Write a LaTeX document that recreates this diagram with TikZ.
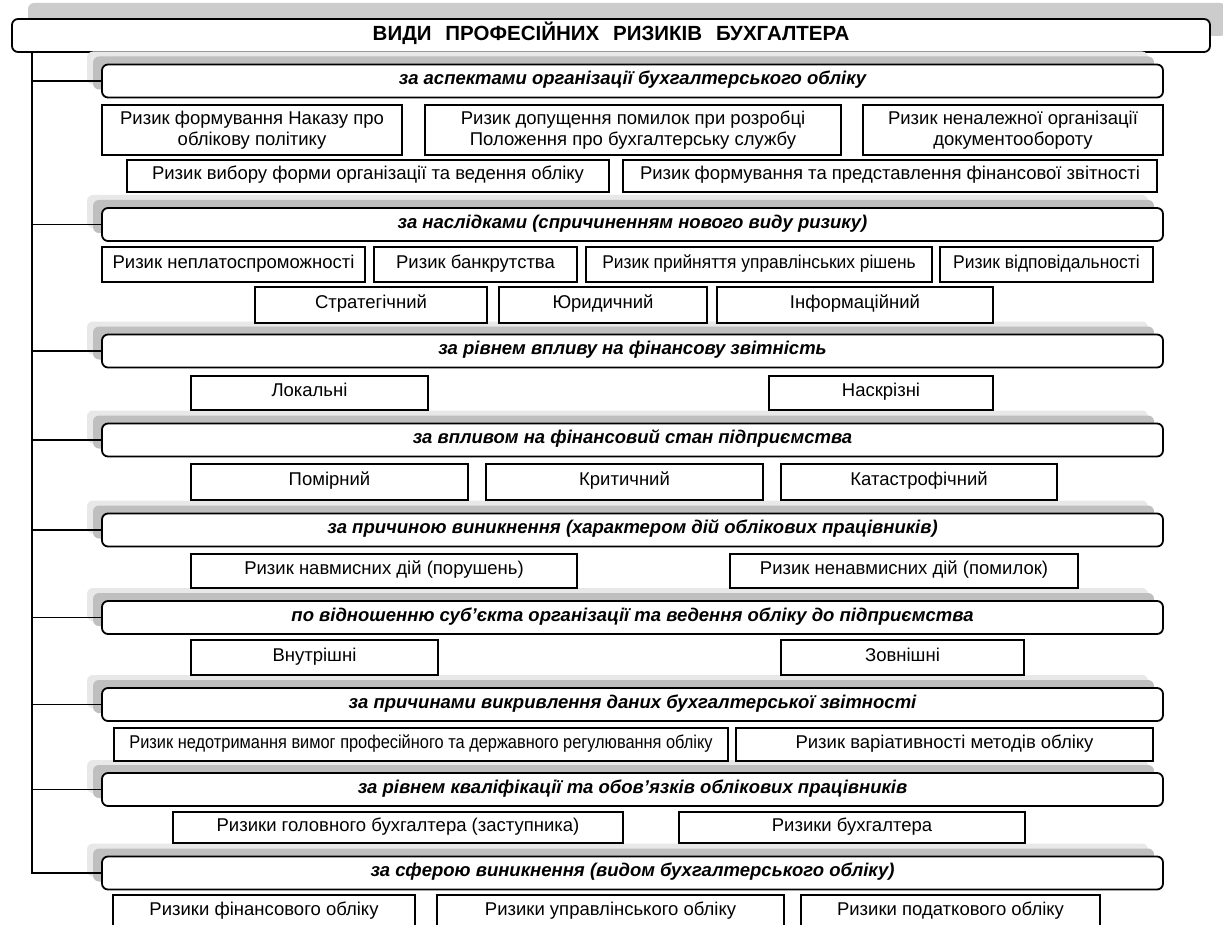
\documentclass[tikz,border=0pt]{standalone}
\usepackage{fontspec}
\setmainfont{Liberation Sans}
\usetikzlibrary{shadows,calc}
\tikzset{
  leafbase/.style={draw=black, line width=1.6pt, fill=white, inner sep=0pt, align=center,
    font=\fontsize{18.5}{21}\selectfont},
  leafbox/.style={leafbase, text height=13pt, text depth=5.5pt},
  leaftwo/.style={leafbase},
  headbox/.style={draw=black, line width=1.8pt, fill=white, rounded corners=6pt, inner sep=0pt,
    minimum width=1061pt, minimum height=33pt,
    font=\fontsize{18.5}{21}\selectfont\bfseries\itshape, text height=13pt, text depth=5.5pt,
    general shadow={fill=gray!18, shadow xshift=-15pt, shadow yshift=13pt},
    general shadow={fill=gray!50, shadow xshift=-9pt, shadow yshift=8pt}},
  titlebox/.style={draw=black, line width=1.8pt, fill=white, rounded corners=6pt, inner sep=0pt,
    minimum width=1198pt, minimum height=33pt,
    font=\fontsize{20.5}{23}\selectfont\bfseries, text height=14.5pt, text depth=4pt,
    general shadow={fill=gray!40, shadow xshift=16pt, shadow yshift=16pt}},
  conn/.style={draw=black, line width=1.6pt}
}
\newcommand\leafnode[7][leafbox]{%
  \node[#1, minimum width={(#5-#3)*1pt}, minimum height={(#6-#4)*1pt}]
    (#2) at ({(#3+#5)/2},{(#4+#6)/2}) {#7};}
\newcommand\headnode[3]{%
  \node[headbox] (#1) at (632.5,#2) {#3};}
\newcommand\narrow[2]{\scalebox{#1}[1]{#2}}
\begin{document}
\begin{tikzpicture}[x=1pt,y=-1pt]
\useasboundingbox (0,0) rectangle (1223,925);
\fill[white] (0,0) rectangle (1223,925);

% title
\node[titlebox] (title) at (611,35.5) {ВИДИ\hspace{0.4em} ПРОФЕСІЙНИХ\hspace{0.4em} РИЗИКІВ\hspace{0.4em} БУХГАЛТЕРА};

% headers
\headnode{h1}{81}{за аспектами організації бухгалтерського обліку}
\headnode{h2}{224.5}{за наслідками (спричиненням нового виду ризику)}
\headnode{h3}{351}{за рівнем впливу на фінансову звітність}
\headnode{h4}{440}{за впливом на фінансовий стан підприємства}
\headnode{h5}{530}{за причиною виникнення (характером дій облікових працівників)}
\headnode{h6}{617.5}{по відношенню суб’єкта організації та ведення обліку до підприємства}
\headnode{h7}{704.5}{за причинами викривлення даних бухгалтерської звітності}
\headnode{h8}{789.5}{за рівнем кваліфікації та обов’язків облікових працівників}
\headnode{h9}{873}{за сферою виникнення (видом бухгалтерського обліку)}

% trunk and branches
\coordinate (trunk) at ($(title.south west)+(21pt,0)$);
\draw[conn] (trunk) |- (h9.west);
\foreach \h in {h1,h2,h3,h4,h5,h6,h7,h8}{
  \draw[conn] (trunk |- \h.west) -- (\h.west);
}

% row 1
\leafnode[leaftwo]{a1}{102}{105}{402}{155}{Ризик формування Наказу про\\облікову політику}
\leafnode[leaftwo]{a2}{425}{105}{841}{155}{Ризик допущення помилок при розробці\\Положення про бухгалтерську службу}
\leafnode[leaftwo]{a3}{863}{105}{1163}{155}{Ризик неналежної організації\\документообороту}
\leafnode{a4}{127}{160}{609}{192}{Ризик вибору форми організації та ведення обліку}
\leafnode{a5}{623}{160}{1157}{192}{Ризик формування та представлення фінансової звітності}
% row 2
\leafnode{b1}{102}{247}{365}{282}{Ризик неплатоспроможності}
\leafnode{b2}{374}{247}{577}{282}{Ризик банкрутства}
\leafnode{b3}{586}{247}{932}{282}{\narrow{0.94}{Ризик прийняття управлінських рішень}}
\leafnode{b4}{940}{247}{1153}{282}{\narrow{0.945}{Ризик відповідальності}}
\leafnode{b5}{255}{287}{487}{323}{Стратегічний}
\leafnode{b6}{499}{287}{707}{323}{Юридичний}
\leafnode{b7}{717}{287}{993}{323}{Інформаційний}
% row 3
\leafnode{c1}{191}{376}{428}{410}{Локальні}
\leafnode{c2}{769}{376}{993}{410}{Наскрізні}
% row 4
\leafnode{d1}{191}{464}{468}{500}{Помірний}
\leafnode{d2}{486}{464}{763}{500}{Критичний}
\leafnode{d3}{781}{464}{1057}{500}{Катастрофічний}
% row 5
\leafnode{e1}{191}{554}{577}{588}{Ризик навмисних дій (порушень)}
\leafnode{e2}{730}{554}{1078}{588}{Ризик ненавмисних дій (помилок)}
% row 6
\leafnode{f1}{191}{640}{438}{675}{Внутрішні}
\leafnode{f2}{781}{640}{1024}{675}{Зовнішні}
% row 7
\leafnode{g1}{114}{728}{728}{761}{\narrow{0.885}{Ризик недотримання вимог професійного та державного регулювання обліку}}
\leafnode{g2}{736}{728}{1153}{761}{Ризик варіативності методів обліку}
% row 8
\leafnode{k1}{173}{812}{623}{843}{Ризики головного бухгалтера (заступника)}
\leafnode{k2}{679}{812}{1025}{843}{Ризики бухгалтера}
% row 9
\leafnode{m1}{113}{895}{415}{929}{Ризики фінансового обліку}
\leafnode{m2}{437}{895}{784}{929}{Ризики управлінського обліку}
\leafnode{m3}{801}{895}{1100}{929}{Ризики податкового обліку}
\end{tikzpicture}
\end{document}
